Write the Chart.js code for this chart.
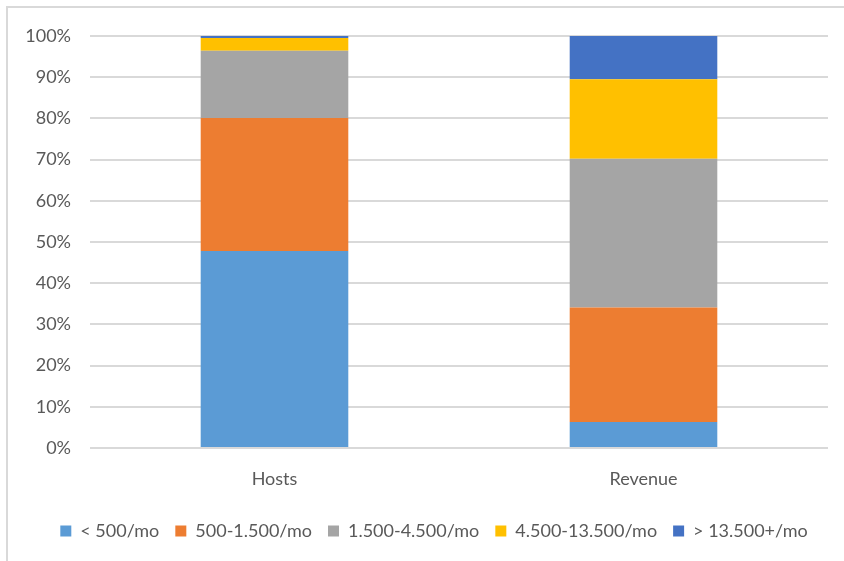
<!DOCTYPE html>
<html>
<head>
<meta charset="utf-8">
<script src="https://cdn.jsdelivr.net/npm/chart.js@4"></script>
<style>
  html, body { margin: 0; padding: 0; background: #fff; }
  #wrap { position: relative; width: 844px; height: 561px; }
  #frame { position: absolute; left: 6px; top: 6px; right: -2px; bottom: -2px;
           border-left: 2px solid #d9d9d9; border-top: 2px solid #d9d9d9; pointer-events: none; }
  canvas { position: absolute; left: 0; top: 0; }
</style>
</head>
<body>
<div id="wrap">
  <canvas id="c" width="844" height="561"></canvas>
  <div id="frame"></div>
</div>
<script>
const categories = ['Hosts', 'Revenue'];
const seriesNames = ['< 500/mo', '500-1.500/mo', '1.500-4.500/mo', '4.500-13.500/mo', '> 13.500+/mo'];
const under500 = [47.8, 6.3];
const from500to1500 = [32.3, 27.8];
const from1500to4500 = [16.3, 36.1];
const from4500to13500 = [3.1, 19.3];
const over13500 = [0.5, 10.5];
const seriesColors = ['#5B9BD5', '#ED7D31', '#A5A5A5', '#FFC000', '#4472C4'];
const yTickValues = [0, 10, 20, 30, 40, 50, 60, 70, 80, 90, 100];

const seriesValues = [under500, from500to1500, from1500to4500, from4500to13500, over13500];

const FONT = 'Lato';
const TEXT = '#595959';

const shiftLegend = {
  id: 'shiftLegend',
  afterLayout(chart) {
    const lg = chart.legend;
    if (lg) { lg.left = 24; lg.right = 844; }
  }
};

new Chart(document.getElementById('c'), {
  type: 'bar',
  data: {
    labels: categories,
    datasets: seriesNames.map((name, i) => ({
      label: name,
      data: seriesValues[i],
      backgroundColor: seriesColors[i],
      borderWidth: 0,
      categoryPercentage: 1.0,
      barPercentage: 0.4
    }))
  },
  options: {
    responsive: false,
    animation: false,
    devicePixelRatio: 1,
    layout: { padding: { top: 36, right: 16, bottom: 11, left: 0 } },
    plugins: {
      tooltip: { enabled: false },
      legend: {
        position: 'bottom',
        labels: {
          font: { family: FONT, size: 18 },
          color: TEXT,
          boxWidth: 11,
          boxHeight: 11,
          padding: 16
        }
      }
    },
    scales: {
      x: {
        stacked: true,
        grid: { display: false, drawTicks: false },
        border: { display: false },
        ticks: { font: { family: FONT, size: 18 }, color: TEXT, padding: 20 },
        afterFit(scale) { scale.height = 58; }
      },
      y: {
        stacked: true,
        min: 0,
        max: 100,
        afterBuildTicks(scale) { scale.ticks = yTickValues.map(v => ({ value: v })); },
        grid: { color: '#d9d9d9', lineWidth: 2, drawTicks: false },
        border: { display: false },
        ticks: {
          font: { family: FONT, size: 18 },
          color: TEXT,
          padding: 19,
          callback: v => v + '%'
        },
        afterFit(scale) { scale.width = 90; }
      }
    }
  },
  plugins: [shiftLegend]
});
</script>
</body>
</html>
